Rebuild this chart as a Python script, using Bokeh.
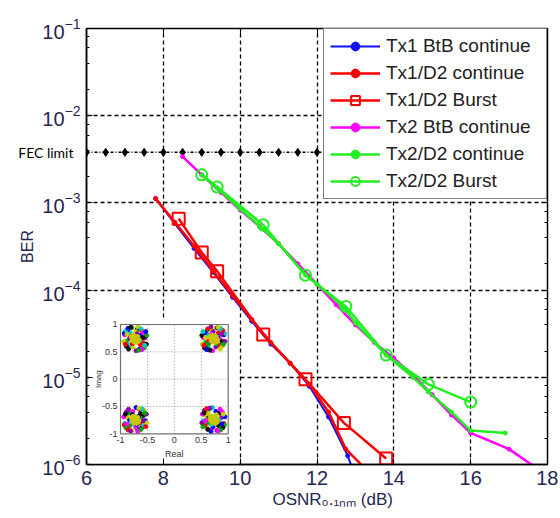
import math
from bokeh.plotting import figure
from bokeh.models import (Range1d, LinearScale, LogAxis, LinearAxis, FixedTicker,
                          LogTicker, Title, CustomJSTickFormatter)
from bokeh.core.properties import value
from bokeh.embed import file_html
from bokeh.resources import INLINE

# ---------------- data ----------------
x_ticks = [6, 8, 10, 12, 14, 16, 18]

fec_level = 3.8e-3
fec_text = "FEC limit"
fec_x = [6, 6.5, 7, 7.5, 8, 8.5, 9, 9.5, 10, 10.5, 11, 11.5, 12, 12.5,
         13, 13.5, 14, 14.5, 15, 15.5, 16, 16.5, 17, 17.5, 18]

tx1_btb_x = [7.8, 8.3, 8.8, 9.3, 9.8, 10.3, 10.8, 11.3, 11.8, 12.3, 12.8, 12.9]
tx1_btb_y = [1.12e-3, 5.8e-4, 3.0e-4, 1.6e-4, 8.3e-5, 4.4e-5, 2.4e-5, 1.45e-5,
             7.9e-6, 3.5e-6, 1.26e-6, 9.5e-7]

tx1_d2_x = [7.8, 8.3, 8.8, 9.3, 9.8, 10.3, 10.8, 11.3, 11.8, 12.3, 12.75, 13.2]
tx1_d2_y = [1.12e-3, 6.0e-4, 3.2e-4, 1.66e-4, 8.7e-5, 4.6e-5, 2.5e-5, 1.45e-5,
            8.3e-6, 4.0e-6, 1.5e-6, 9.5e-7]

tx1_burst_x = [8.4, 9.0, 9.4, 10.6, 11.7, 12.7, 13.8]
tx1_burst_y = [6.6e-4, 2.7e-4, 1.65e-4, 3.1e-5, 9.5e-6, 3.0e-6, 1.17e-6]

tx2_btb_x = [8.5, 9.0, 9.5, 10.0, 10.5, 11.0, 11.5, 12.0, 12.5, 13.0, 13.5,
             14.0, 14.5, 15.0, 15.5, 16.0, 17.0, 17.65]
tx2_btb_y = [3.4e-3, 2.1e-3, 1.32e-3, 8.3e-4, 5.4e-4, 3.4e-4, 2.0e-4, 1.17e-4,
             6.8e-5, 4.0e-5, 2.5e-5, 1.66e-5, 1.05e-5, 6.3e-6, 3.7e-6, 2.3e-6,
             1.5e-6, 9.5e-7]

tx2_d2_x = [9.0, 9.4, 10.0, 10.6, 11.0, 11.7, 12.0, 12.7, 13.0, 13.8, 14.5,
            14.9, 15.5, 16.0, 16.9]
tx2_d2_y = [2.1e-3, 1.48e-3, 8.5e-4, 5.0e-4, 3.4e-4, 1.5e-4, 1.17e-4, 6.3e-5,
            4.2e-5, 1.8e-5, 1.0e-5, 6.8e-6, 4.0e-6, 2.45e-6, 2.3e-6]

tx2_burst_x = [9.0, 9.4, 10.6, 11.7, 12.75, 13.8, 14.9, 16.0]
tx2_burst_y = [2.1e-3, 1.52e-3, 5.6e-4, 1.48e-4, 6.5e-5, 1.8e-5, 8.3e-6, 5.2e-6]

# inset (constellation)
inset_ticks = [-1, -0.5, 0, 0.5, 1]
inset_tick_labels = ["-1", "-0.5", "0", "0.5", "1"]
inset_grid = [-0.5, 0, 0.5]
cluster_cx = [-0.73, 0.73, -0.73, 0.73]
cluster_cy = [0.74, 0.74, -0.74, -0.74]
cloud_dx = [0.00, 0.10, -0.09, 0.15, -0.15, 0.04, -0.04, 0.19, -0.19, 0.08,
            -0.11, 0.12, -0.06, 0.21, -0.21, 0.02, 0.16, -0.14, 0.09, -0.02,
            0.22, -0.16, 0.05, -0.10, 0.14, -0.20, 0.11, -0.05, 0.17, -0.12,
            0.01, 0.06, -0.07, 0.20, -0.17, 0.10, -0.01, 0.15, -0.15, 0.04,
            0.13, -0.13, 0.18, -0.18, 0.07, -0.08]
cloud_dy = [0.00, 0.06, 0.11, -0.07, -0.04, 0.17, -0.15, 0.02, 0.07, -0.19,
            -0.12, 0.15, 0.20, -0.10, -0.05, -0.22, 0.11, 0.16, -0.04, 0.05,
            0.06, -0.14, 0.22, 0.01, -0.16, 0.10, 0.18, -0.09, -0.17, -0.19,
            0.13, -0.06, 0.04, 0.13, 0.15, -0.11, -0.02, 0.02, 0.08, 0.09,
            -0.20, 0.19, -0.12, -0.10, -0.21, 0.21]
core_dx = [0.0, 0.05, -0.05, 0.03, -0.04, 0.07, -0.07, 0.0, 0.06, -0.02]
core_dy = [0.0, 0.04, -0.03, -0.07, 0.06, -0.02, 0.03, 0.05, -0.05, -0.06]
cloud_colors = ["#ff00ff", "#0000ff", "#00cccc", "#ff0000", "#00aa00",
                "#111111", "#cccc00", "#8800aa"]

# ---------------- figure ----------------
FONT = "Liberation Sans"
TXT = "#262650"

p = figure(width=558, height=514, x_range=Range1d(6, 18),
           y_range=Range1d(1e-6, 1e-1), y_axis_type="log",
           output_backend="svg", toolbar_location=None,
           min_border_left=86, min_border_right=11, min_border_top=28,
           min_border_bottom=50)
p.background_fill_color = "white"
p.border_fill_color = "white"
p.outline_line_color = "black"
p.outline_line_width = 1.5
p.outline_line_alpha = 1.0

# axes
xt = FixedTicker(ticks=x_ticks)
p.xaxis.ticker = xt
p.yaxis.ticker = LogTicker(desired_num_ticks=6)
for ax in (p.xaxis[0], p.yaxis[0]):
    ax.axis_line_color = "black"
    ax.axis_line_width = 1.5
    ax.major_tick_line_color = "black"
    ax.minor_tick_line_color = "black"
    ax.major_tick_in = 6
    ax.major_tick_out = 0
    ax.minor_tick_in = 3
    ax.minor_tick_out = 0
    ax.major_label_text_font = FONT
    ax.major_label_text_font_size = "20px"
    ax.major_label_text_color = TXT
p.xaxis.minor_tick_line_color = None
p.xaxis.major_label_standoff = 6
p.yaxis.major_label_standoff = 6

# second left axis: carries the "FEC limit" label and the "BER" axis title
fa = LogAxis(ticker=FixedTicker(ticks=[fec_level]),
             formatter=CustomJSTickFormatter(code="return '%s'" % fec_text),
             axis_line_color=None, major_tick_line_color=None,
             minor_tick_line_color=None, major_tick_out=0, major_tick_in=0,
             major_label_standoff=-34, major_label_text_font="Lato",
             major_label_text_font_size="14px", major_label_text_color="black",
             axis_label="BER", axis_label_text_font=FONT,
             axis_label_text_font_size="16px", axis_label_text_font_style="normal",
             axis_label_text_color=TXT, axis_label_standoff=-21)
p.add_layout(fa, "left")

ra = LogAxis(ticker=LogTicker(desired_num_ticks=6), major_label_text_color=None,
             major_label_text_font_size="1px",
             major_label_standoff=0, major_tick_in=6, major_tick_out=0,
             minor_tick_in=3, minor_tick_out=0, axis_line_color="black")
p.add_layout(ra, "right")
ta = LinearAxis(ticker=xt, major_label_text_color=None,
                major_label_text_font_size="1px", major_label_standoff=0,
                major_tick_in=6, major_tick_out=0, minor_tick_line_color=None,
                axis_line_color="black")
p.add_layout(ta, "above")

# x axis title (below the tick labels), with subscript characters
p.add_layout(Title(text="OSNR\u2080.\u2081\u2099\u2098 (dB)", align="left",
                   offset=186, standoff=0, text_font=FONT,
                   text_font_size="17px", text_font_style="normal",
                   text_color=TXT), "below")

# grid
for g in (p.xgrid[0], p.ygrid[0]):
    g.grid_line_color = "black"
    g.grid_line_dash = "4 3"
    g.grid_line_width = 1.3
    g.grid_line_alpha = 1.0
p.xgrid.ticker = xt

# FEC line
p.line(fec_x, [fec_level] * len(fec_x), line_color="black", line_width=1.5,
       line_dash="3 2 1 2")
p.scatter(fec_x, [fec_level] * len(fec_x), marker="diamond", size=8,
          color="black")

# series
BLUE, RED, MAG, GRN = "#1010ff", "#ff0000", "#ff00ff", "#22ee22"
p.line(tx1_btb_x, tx1_btb_y, line_color=BLUE, line_width=2,
       legend_label="Tx1 BtB continue")
p.scatter(tx1_btb_x, tx1_btb_y, marker="circle", size=4, color=BLUE,
          legend_label="Tx1 BtB continue")
p.line(tx1_d2_x, tx1_d2_y, line_color=RED, line_width=2.5,
       legend_label="Tx1/D2 continue")
p.scatter(tx1_d2_x, tx1_d2_y, marker="circle", size=4, color=RED,
          legend_label="Tx1/D2 continue")
p.line(tx1_burst_x, tx1_burst_y, line_color=RED, line_width=2.5,
       legend_label="Tx1/D2 Burst")
p.scatter(tx1_burst_x, tx1_burst_y, marker="square", size=12, fill_color=None,
          line_color=RED, line_width=2, legend_label="Tx1/D2 Burst")
p.line(tx2_btb_x, tx2_btb_y, line_color=MAG, line_width=2.5,
       legend_label="Tx2 BtB continue")
p.scatter(tx2_btb_x, tx2_btb_y, marker="circle", size=4, color=MAG,
          legend_label="Tx2 BtB continue")
p.line(tx2_d2_x, tx2_d2_y, line_color=GRN, line_width=2.5,
       legend_label="Tx2/D2 continue")
p.scatter(tx2_d2_x, tx2_d2_y, marker="circle", size=4, color=GRN,
          legend_label="Tx2/D2 continue")
p.line(tx2_burst_x, tx2_burst_y, line_color=GRN, line_width=2.5,
       legend_label="Tx2/D2 Burst")
p.scatter(tx2_burst_x, tx2_burst_y, marker="circle", size=11, fill_color=None,
          line_color=GRN, line_width=2, legend_label="Tx2/D2 Burst")

lg = p.legend[0]
lg.location = "top_right"
lg.margin = 0
lg.padding = 6
lg.spacing = 5
lg.glyph_width = 50
lg.glyph_height = 22
lg.label_height = 22
lg.label_width = 154
lg.label_standoff = 6
lg.label_text_font = FONT
lg.label_text_font_size = "19px"
lg.label_text_color = "#222222"
lg.border_line_color = "black"
lg.border_line_width = 1.5
lg.background_fill_alpha = 1.0

# ---------------- inset (constellation) ----------------
p.extra_x_ranges = {"ix": Range1d(-1.6314, 6.929)}
p.extra_x_scales = {"ix": LinearScale()}
p.extra_y_ranges = {"iy": Range1d(-1.5617, 6.416)}
p.extra_y_scales = {"iy": LinearScale()}
kw = dict(x_range_name="ix", y_range_name="iy")

p.quad(left=[-1.58], right=[1.19], bottom=[-1.7], top=[1.11],
       fill_color="white", line_color=None, **kw)
p.segment(x0=inset_grid, x1=inset_grid, y0=[-1] * 3, y1=[1] * 3,
          line_color="#999999", line_dash="1 2", line_width=1, **kw)
p.segment(x0=[-1] * 3, x1=[1] * 3, y0=inset_grid, y1=inset_grid,
          line_color="#999999", line_dash="1 2", line_width=1, **kw)

px, py, pc = [], [], []
for k in range(4):
    sx = 1 if k % 2 == 0 else -1
    sy = 1 if k < 2 else -1
    for i in range(len(cloud_dx)):
        px.append(cluster_cx[k] + sx * cloud_dx[i])
        py.append(cluster_cy[k] + sy * cloud_dy[i])
        pc.append(cloud_colors[(i + k) % len(cloud_colors)])
    for i in range(len(core_dx)):
        px.append(cluster_cx[k] + core_dx[i])
        py.append(cluster_cy[k] + core_dy[i])
        pc.append("#c8c800")
p.scatter(px, py, marker="circle", size=4, color=pc, **kw)

p.quad(left=[-1], right=[1], bottom=[-1], top=[1], fill_color=None,
       line_color="#707070", line_width=1.2, **kw)

p.text(x=inset_ticks, y=[-1] * 5, text=inset_tick_labels, text_align="center",
       text_baseline="top", y_offset=3, text_font=value(FONT),
       text_font_size="9px", text_color="#333333", **kw)
p.text(x=[-1] * 5, y=inset_ticks, text=inset_tick_labels, text_align="right",
       text_baseline="middle", x_offset=-3, text_font=value(FONT),
       text_font_size="9px", text_color="#333333", **kw)
p.text(x=[0], y=[-1], text=["Real"], text_align="center", text_baseline="top",
       y_offset=15, text_font=value(FONT), text_font_size="9px",
       text_color="#333333", **kw)
p.text(x=[-1], y=[0], text=["Imag"], text_align="center", text_baseline="bottom",
       x_offset=-18, angle=math.pi / 2, text_font=value(FONT),
       text_font_size="8px", text_color="#333333", **kw)

open("out.html", "w").write(file_html(p, INLINE))
